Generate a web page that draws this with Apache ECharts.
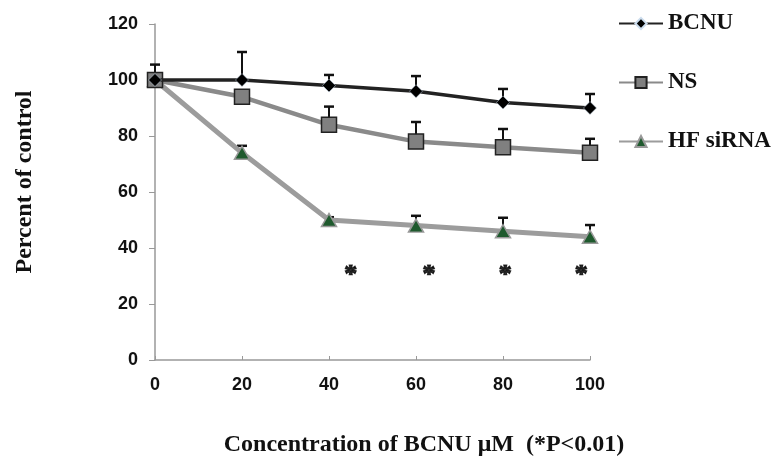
<!DOCTYPE html>
<html><head><meta charset="utf-8">
<script src="https://cdn.jsdelivr.net/npm/echarts@6/dist/echarts.min.js"></script>
<style>html,body{margin:0;padding:0;background:#fff}#c{width:772px;height:468px}</style>
</head><body><div id="c"></div>
<script>
const concentrations = [0, 20, 40, 60, 80, 100];
const bcnu = [100, 100, 98, 96, 92, 90];
const bcnuErrTop = [105.5, 110, 101.8, 101.4, 96.8, 95];
const ns = [100, 94, 84, 78, 76, 74];
const nsErrTop = [100, 94, 90.5, 85, 82.5, 79];
const hf = [100, 74, 50, 48, 46, 44];
const hfErrTop = [100, 76.5, 51, 51.5, 50.8, 48.2];
const starX = [45, 63, 80.5, 98];
const starY = 32;
const xTitle = 'Concentration of BCNU \u03BCM  (*P<0.01)';
const yTitle = 'Percent of control';

function pairs(xs, ys){ return xs.map((x,i)=>[x, ys[i]]); }
function errData(vals, tops){ return concentrations.map((x,i)=>[x, vals[i], tops[i]]); }
function errSeries(vals, tops){
  return {
    type:'custom', z:1, silent:true,
    data: errData(vals, tops),
    renderItem: function(params, api){
      const p0 = api.coord([api.value(0), api.value(1)]);
      const p1 = api.coord([api.value(0), api.value(2)]);
      return {type:'group', children:[
        {type:'line', shape:{x1:p0[0],y1:p0[1],x2:p1[0],y2:p1[1]}, style:{stroke:'#111', lineWidth:2}},
        {type:'line', shape:{x1:p1[0]-5,y1:p1[1],x2:p1[0]+5,y2:p1[1]}, style:{stroke:'#111', lineWidth:2.5}}
      ]};
    }
  };
}
const titleFont = {fontFamily:'Liberation Serif', fontWeight:'bold', fontSize:24, fill:'#111'};
const chart = echarts.init(document.getElementById('c'));
chart.setOption({
  animation:false,
  grid:{left:155, right:182, top:24, bottom:108},
  legend:{
    orient:'vertical', left:618, top:12, padding:0, itemGap:36, itemWidth:44, itemHeight:14,
    textStyle:{fontFamily:'Liberation Serif', fontWeight:'bold', fontSize:23, lineHeight:20, color:'#111'},
    data:['BCNU','NS','HF siRNA']
  },
  graphic:[
    {type:'text', x:424, y:445, style:Object.assign({text:xTitle, x:0, y:0, textAlign:'center', textVerticalAlign:'middle'}, titleFont)},
    {type:'text', x:25, y:182, rotation:Math.PI/2, style:Object.assign({text:yTitle, x:0, y:0, textAlign:'center', textVerticalAlign:'middle'}, titleFont)}
  ],
  xAxis:{
    type:'value', min:0, max:100, interval:20,
    axisLine:{lineStyle:{color:'#999', width:1.5}},
    axisTick:{show:true, inside:true, length:4, lineStyle:{color:'#999'}},
    axisLabel:{fontFamily:'Liberation Sans', fontWeight:'bold', fontSize:18, color:'#111', margin:16},
    splitLine:{show:false}
  },
  yAxis:{
    type:'value', min:0, max:120, interval:20,
    axisLine:{show:true, lineStyle:{color:'#999', width:1.5}},
    axisTick:{show:true, length:6, lineStyle:{color:'#999'}},
    axisLabel:{fontFamily:'Liberation Sans', fontWeight:'bold', fontSize:18, color:'#111', margin:17},
    splitLine:{show:false}
  },
  series:[
    errSeries(bcnu, bcnuErrTop),
    errSeries(ns, nsErrTop),
    errSeries(hf, hfErrTop),
    {name:'HF siRNA', type:'line', z:3, data:pairs(concentrations, hf),
      symbol:'triangle', symbolSize:[15,13],
      lineStyle:{color:'#9c9c9c', width:5},
      itemStyle:{color:'#1f5a2e', borderColor:'#999', borderWidth:1.5}},
    {name:'NS', type:'line', z:4, data:pairs(concentrations, ns),
      symbol:'rect', symbolSize:15,
      lineStyle:{color:'#8a8a8a', width:4.5},
      itemStyle:{color:'#808080', borderColor:'#222', borderWidth:1.5}},
    {name:'BCNU', type:'line', z:5, data:pairs(concentrations, bcnu),
      symbol:'diamond', symbolSize:13,
      lineStyle:{color:'#222', width:3.5},
      itemStyle:{color:'#000', borderColor:'#cde', borderWidth:0.5}},
    {type:'scatter', z:6, silent:true, symbol:'circle', symbolSize:1,
      itemStyle:{color:'rgba(0,0,0,0)'},
      data: starX.map(x=>[x, starY]),
      label:{show:true, position:'inside', formatter:'*', fontFamily:'Liberation Serif', fontWeight:'bold', fontSize:26, color:'#000', textBorderColor:'#000', textBorderWidth:1.2, offset:[0,5]}}
  ]
});
</script></body></html>
